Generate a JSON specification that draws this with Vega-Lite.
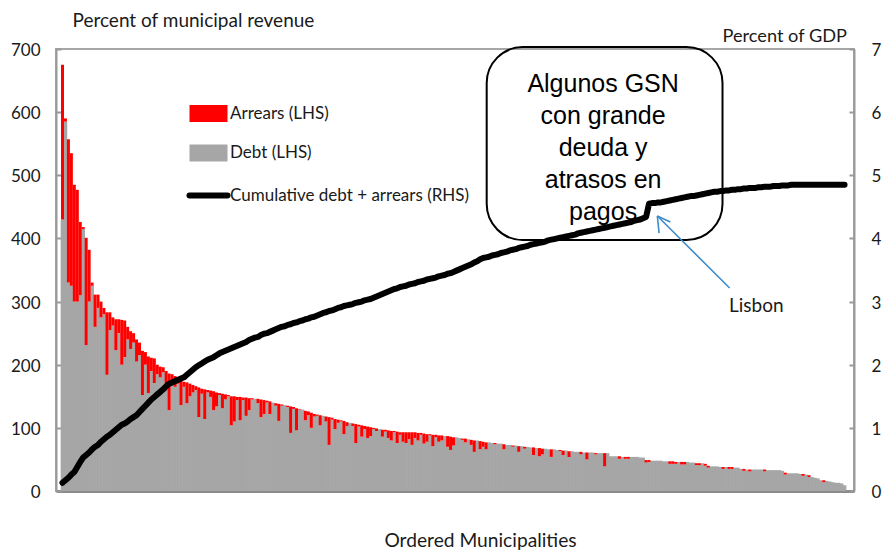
{
"$schema": "https://vega.github.io/schema/vega-lite/v6.json",
"width": 798, "height": 442,
"autosize": "none",
"padding": {"left": 56, "top": 49, "right": 28, "bottom": 59},
"background": "white",
"datasets": {
"bars": [
{"i":1,"t":675,"d":430,"c":0.13},{"i":2,"t":590,"d":585,"c":0.17},{"i":3,"t":557,"d":330,"c":0.21},{"i":4,"t":535,"d":325,"c":0.26},{"i":5,"t":485,"d":300,"c":0.30},
{"i":6,"t":477,"d":300,"c":0.38},{"i":7,"t":426,"d":310,"c":0.46},{"i":8,"t":418,"d":415,"c":0.53},{"i":9,"t":401,"d":231,"c":0.57},{"i":10,"t":382,"d":300,"c":0.61},
{"i":11,"t":330,"d":325,"c":0.66},{"i":12,"t":311,"d":260,"c":0.70},{"i":13,"t":311,"d":290,"c":0.73},{"i":14,"t":300,"d":275,"c":0.78},{"i":15,"t":290,"d":280,"c":0.82},
{"i":16,"t":283,"d":184,"c":0.86},{"i":17,"t":283,"d":255,"c":0.89},{"i":18,"t":275,"d":262,"c":0.93},{"i":19,"t":272,"d":223,"c":0.97},{"i":20,"t":272,"d":250,"c":1.01},
{"i":21,"t":271,"d":200,"c":1.05},{"i":22,"t":270,"d":212,"c":1.07},{"i":23,"t":260,"d":240,"c":1.10},{"i":24,"t":253,"d":225,"c":1.14},{"i":25,"t":250,"d":235,"c":1.17},
{"i":26,"t":240,"d":205,"c":1.20},{"i":27,"t":235,"d":215,"c":1.25},{"i":28,"t":222,"d":152,"c":1.30},{"i":29,"t":220,"d":200,"c":1.35},{"i":30,"t":213,"d":155,"c":1.40},
{"i":31,"t":211,"d":190,"c":1.45},{"i":32,"t":210,"d":171,"c":1.49},{"i":33,"t":200,"d":185,"c":1.53},{"i":34,"t":197,"d":180,"c":1.57},{"i":35,"t":196,"d":188,"c":1.61},
{"i":36,"t":190,"d":170,"c":1.66},{"i":37,"t":186,"d":128,"c":1.70},{"i":38,"t":185,"d":172,"c":1.72},{"i":39,"t":182,"d":165,"c":1.74},{"i":40,"t":176,"d":170,"c":1.76},
{"i":41,"t":175,"d":136,"c":1.78},{"i":42,"t":173,"d":165,"c":1.80},{"i":43,"t":172,"d":139,"c":1.84},{"i":44,"t":170,"d":150,"c":1.88},{"i":45,"t":168,"d":156,"c":1.92},
{"i":46,"t":166,"d":160,"c":1.96},{"i":47,"t":164,"d":117,"c":1.99},{"i":48,"t":162,"d":154,"c":2.02},{"i":49,"t":161,"d":114,"c":2.05},{"i":50,"t":160,"d":156,"c":2.08},
{"i":51,"t":159,"d":149,"c":2.10},{"i":52,"t":158,"d":128,"c":2.12},{"i":53,"t":156,"d":134,"c":2.15},{"i":54,"t":155,"d":152,"c":2.18},{"i":55,"t":154,"d":131,"c":2.20},
{"i":56,"t":153,"d":145,"c":2.22},{"i":57,"t":152,"d":150,"c":2.24},{"i":58,"t":150,"d":104,"c":2.26},{"i":59,"t":150,"d":110,"c":2.28},{"i":60,"t":149,"d":144,"c":2.30},
{"i":61,"t":149,"d":112,"c":2.32},{"i":62,"t":148,"d":144,"c":2.34},{"i":63,"t":148,"d":119,"c":2.36},{"i":64,"t":147,"d":128,"c":2.39},{"i":65,"t":147,"d":145,"c":2.41},
{"i":66,"t":146,"d":146,"c":2.43},{"i":67,"t":146,"d":139,"c":2.44},{"i":68,"t":145,"d":117,"c":2.47},{"i":69,"t":144,"d":122,"c":2.49},{"i":70,"t":143,"d":140,"c":2.50},
{"i":71,"t":142,"d":122,"c":2.52},{"i":72,"t":140,"d":140,"c":2.54},{"i":73,"t":139,"d":135,"c":2.56},{"i":74,"t":138,"d":111,"c":2.58},{"i":75,"t":137,"d":135,"c":2.60},
{"i":76,"t":136,"d":136,"c":2.61},{"i":77,"t":135,"d":133,"c":2.63},{"i":78,"t":134,"d":92,"c":2.64},{"i":79,"t":133,"d":130,"c":2.66},{"i":80,"t":131,"d":96,"c":2.67},
{"i":81,"t":130,"d":129,"c":2.69},{"i":82,"t":129,"d":129,"c":2.70},{"i":83,"t":127,"d":112,"c":2.72},{"i":84,"t":126,"d":120,"c":2.73},{"i":85,"t":124,"d":100,"c":2.75},
{"i":86,"t":122,"d":118,"c":2.76},{"i":87,"t":121,"d":119,"c":2.78},{"i":88,"t":120,"d":104,"c":2.80},{"i":89,"t":119,"d":119,"c":2.82},{"i":90,"t":118,"d":110,"c":2.83},
{"i":91,"t":117,"d":73,"c":2.85},{"i":92,"t":116,"d":113,"c":2.86},{"i":93,"t":114,"d":98,"c":2.88},{"i":94,"t":113,"d":108,"c":2.90},{"i":95,"t":112,"d":110,"c":2.91},
{"i":96,"t":111,"d":90,"c":2.93},{"i":97,"t":109,"d":103,"c":2.94},{"i":98,"t":108,"d":108,"c":2.95},{"i":99,"t":107,"d":103,"c":2.96},{"i":100,"t":106,"d":76,"c":2.98},
{"i":101,"t":105,"d":102,"c":2.99},{"i":102,"t":104,"d":86,"c":3.00},{"i":103,"t":103,"d":98,"c":3.02},{"i":104,"t":102,"d":84,"c":3.03},{"i":105,"t":101,"d":87,"c":3.04},
{"i":106,"t":100,"d":98,"c":3.06},{"i":107,"t":99,"d":95,"c":3.08},{"i":108,"t":98,"d":98,"c":3.10},{"i":109,"t":97,"d":86,"c":3.12},{"i":110,"t":97,"d":94,"c":3.14},
{"i":111,"t":96,"d":84,"c":3.16},{"i":112,"t":95,"d":80,"c":3.18},{"i":113,"t":95,"d":93,"c":3.20},{"i":114,"t":94,"d":76,"c":3.21},{"i":115,"t":93,"d":89,"c":3.23},
{"i":116,"t":93,"d":78,"c":3.24},{"i":117,"t":93,"d":76,"c":3.25},{"i":118,"t":93,"d":82,"c":3.27},{"i":119,"t":93,"d":73,"c":3.28},{"i":120,"t":93,"d":84,"c":3.29},
{"i":121,"t":92,"d":80,"c":3.31},{"i":122,"t":92,"d":89,"c":3.32},{"i":123,"t":91,"d":75,"c":3.33},{"i":124,"t":90,"d":78,"c":3.35},{"i":125,"t":90,"d":88,"c":3.36},
{"i":126,"t":89,"d":71,"c":3.37},{"i":127,"t":89,"d":85,"c":3.38},{"i":128,"t":88,"d":78,"c":3.40},{"i":129,"t":88,"d":80,"c":3.41},{"i":130,"t":87,"d":87,"c":3.42},
{"i":131,"t":87,"d":70,"c":3.44},{"i":132,"t":86,"d":65,"c":3.45},{"i":133,"t":85,"d":72,"c":3.47},{"i":134,"t":85,"d":85,"c":3.49},{"i":135,"t":84,"d":84,"c":3.51},
{"i":136,"t":83,"d":81,"c":3.53},{"i":137,"t":83,"d":77,"c":3.55},{"i":138,"t":82,"d":82,"c":3.57},{"i":139,"t":81,"d":73,"c":3.59},{"i":140,"t":80,"d":62,"c":3.62},
{"i":141,"t":80,"d":80,"c":3.64},{"i":142,"t":79,"d":66,"c":3.67},{"i":143,"t":78,"d":70,"c":3.69},{"i":144,"t":77,"d":66,"c":3.70},{"i":145,"t":77,"d":77,"c":3.71},
{"i":146,"t":76,"d":76,"c":3.73},{"i":147,"t":76,"d":74,"c":3.74},{"i":148,"t":75,"d":75,"c":3.75},{"i":149,"t":75,"d":75,"c":3.77},{"i":150,"t":74,"d":66,"c":3.78},
{"i":151,"t":73,"d":73,"c":3.79},{"i":152,"t":73,"d":73,"c":3.81},{"i":153,"t":72,"d":70,"c":3.82},{"i":154,"t":72,"d":72,"c":3.83},{"i":155,"t":71,"d":62,"c":3.85},
{"i":156,"t":71,"d":71,"c":3.86},{"i":157,"t":70,"d":67,"c":3.87},{"i":158,"t":70,"d":70,"c":3.88},{"i":159,"t":69,"d":69,"c":3.90},{"i":160,"t":69,"d":57,"c":3.91},
{"i":161,"t":68,"d":68,"c":3.92},{"i":162,"t":68,"d":55,"c":3.93},{"i":163,"t":67,"d":58,"c":3.94},{"i":164,"t":67,"d":67,"c":3.95},{"i":165,"t":66,"d":66,"c":3.97},
{"i":166,"t":66,"d":54,"c":3.98},{"i":167,"t":66,"d":66,"c":3.99},{"i":168,"t":65,"d":65,"c":4.00},{"i":169,"t":65,"d":63,"c":4.01},{"i":170,"t":64,"d":57,"c":4.02},
{"i":171,"t":64,"d":64,"c":4.03},{"i":172,"t":63,"d":54,"c":4.04},{"i":173,"t":63,"d":63,"c":4.05},{"i":174,"t":62,"d":62,"c":4.06},{"i":175,"t":62,"d":62,"c":4.08},
{"i":176,"t":62,"d":58,"c":4.09},{"i":177,"t":61,"d":61,"c":4.10},{"i":178,"t":61,"d":50,"c":4.11},{"i":179,"t":61,"d":61,"c":4.12},{"i":180,"t":61,"d":61,"c":4.13},
{"i":181,"t":60,"d":58,"c":4.14},{"i":182,"t":60,"d":60,"c":4.15},{"i":183,"t":60,"d":60,"c":4.16},{"i":184,"t":60,"d":39,"c":4.17},{"i":185,"t":60,"d":60,"c":4.18},
{"i":186,"t":55,"d":55,"c":4.19},{"i":187,"t":55,"d":55,"c":4.20},{"i":188,"t":55,"d":55,"c":4.21},{"i":189,"t":55,"d":51,"c":4.22},{"i":190,"t":54,"d":54,"c":4.23},
{"i":191,"t":54,"d":51,"c":4.24},{"i":192,"t":54,"d":51,"c":4.25},{"i":193,"t":54,"d":54,"c":4.26},{"i":194,"t":54,"d":54,"c":4.28},{"i":195,"t":54,"d":54,"c":4.29},
{"i":196,"t":53,"d":53,"c":4.30},{"i":197,"t":53,"d":53,"c":4.32},{"i":198,"t":49,"d":45,"c":4.34},{"i":199,"t":49,"d":46,"c":4.55},{"i":200,"t":48,"d":48,"c":4.56},
{"i":201,"t":48,"d":48,"c":4.56},{"i":202,"t":48,"d":48,"c":4.57},{"i":203,"t":48,"d":48,"c":4.57},{"i":204,"t":47,"d":47,"c":4.58},{"i":205,"t":47,"d":47,"c":4.59},
{"i":206,"t":47,"d":43,"c":4.60},{"i":207,"t":47,"d":43,"c":4.61},{"i":208,"t":46,"d":43,"c":4.62},{"i":209,"t":46,"d":46,"c":4.63},{"i":210,"t":46,"d":42,"c":4.64},
{"i":211,"t":46,"d":42,"c":4.65},{"i":212,"t":46,"d":46,"c":4.66},{"i":213,"t":45,"d":45,"c":4.67},{"i":214,"t":45,"d":45,"c":4.67},{"i":215,"t":44,"d":41,"c":4.68},
{"i":216,"t":44,"d":41,"c":4.69},{"i":217,"t":44,"d":44,"c":4.70},{"i":218,"t":43,"d":40,"c":4.71},{"i":219,"t":40,"d":37,"c":4.72},{"i":220,"t":39,"d":39,"c":4.73},
{"i":221,"t":39,"d":39,"c":4.74},{"i":222,"t":39,"d":39,"c":4.74},{"i":223,"t":38,"d":38,"c":4.75},{"i":224,"t":38,"d":35,"c":4.75},{"i":225,"t":38,"d":38,"c":4.76},
{"i":226,"t":38,"d":35,"c":4.76},{"i":227,"t":38,"d":35,"c":4.77},{"i":228,"t":37,"d":37,"c":4.77},{"i":229,"t":37,"d":37,"c":4.78},{"i":230,"t":35,"d":35,"c":4.78},
{"i":231,"t":35,"d":32,"c":4.79},{"i":232,"t":34,"d":34,"c":4.79},{"i":233,"t":34,"d":31,"c":4.80},{"i":234,"t":34,"d":34,"c":4.80},{"i":235,"t":34,"d":34,"c":4.80},
{"i":236,"t":34,"d":34,"c":4.81},{"i":237,"t":34,"d":34,"c":4.81},{"i":238,"t":34,"d":31,"c":4.82},{"i":239,"t":33,"d":33,"c":4.82},{"i":240,"t":33,"d":33,"c":4.82},
{"i":241,"t":33,"d":33,"c":4.83},{"i":242,"t":33,"d":33,"c":4.83},{"i":243,"t":33,"d":33,"c":4.83},{"i":244,"t":32,"d":32,"c":4.84},{"i":245,"t":29,"d":26,"c":4.84},
{"i":246,"t":28,"d":28,"c":4.84},{"i":247,"t":28,"d":28,"c":4.85},{"i":248,"t":28,"d":28,"c":4.85},{"i":249,"t":28,"d":28,"c":4.85},{"i":250,"t":27,"d":27,"c":4.85},
{"i":251,"t":27,"d":24,"c":4.85},{"i":252,"t":26,"d":26,"c":4.85},{"i":253,"t":25,"d":22,"c":4.85},{"i":254,"t":22,"d":22,"c":4.85},{"i":255,"t":21,"d":21,"c":4.85},
{"i":256,"t":20,"d":20,"c":4.85},{"i":257,"t":17,"d":17,"c":4.85},{"i":258,"t":17,"d":14,"c":4.85},{"i":259,"t":16,"d":16,"c":4.85},{"i":260,"t":15,"d":15,"c":4.85},
{"i":261,"t":14,"d":14,"c":4.85},{"i":262,"t":13,"d":13,"c":4.85},{"i":263,"t":13,"d":13,"c":4.85},{"i":264,"t":12,"d":12,"c":4.85},{"i":265,"t":9,"d":9,"c":4.85}
],
"box": [{"x1": 144.2, "x2": 223.8, "y1": 703, "y2": 397.5}],
"boxtext": [{"x": 183.5, "v": 663, "label": "Algunos GSN|con  grande|deuda y|atrasos en|pagos"}],
"arrow": [
{"x": 226.2, "y": 321.5, "x2": 201.8, "y2": 435.5},
{"x": 201.8, "y": 435.5, "x2": 202.4, "y2": 408.5},
{"x": 201.8, "y": 435.5, "x2": 206.2, "y2": 426}
],
"lisbon": [{"x": 235.2, "v": 283.5, "label": "Lisbon"}]
},
"layer": [
{
"layer": [
{
"data": {"name": "bars"},
"mark": {"type": "bar", "width": 3.6, "orient": "vertical"},
"encoding": {
"x": {"field": "i", "type": "quantitative", "title": "Ordered Municipalities", "scale": {"domain": [0.5, 266.5], "nice": false, "zero": false}},
"y": {"field": "d", "type": "quantitative", "title": "Percent of municipal revenue", "scale": {"domain": [0, 700], "nice": false},
"axis": {"orient": "left", "values": [0,100,200,300,400,500,600,700], "tickSize": -5, "labelPadding": 21, "labelOffset": 1.5, "titleAngle": 0, "titleAlign": "left", "titleBaseline": "alphabetic", "titleX": 16, "titleY": -23, "titleFontSize": 19}},
"color": {"datum": "Debt (LHS)", "type": "nominal",
"scale": {"domain": ["Arrears (LHS)", "Debt (LHS)", "Cumulative debt + arrears (RHS)"], "range": ["#ff0000", "#a6a6a6", "#000000"]},
"legend": {"orient": "none", "legendX": 144, "legendY": 56, "title": null, "symbolType": "M-1,-0.45H1V0.45H-1Z", "symbolSize": 1444, "symbolStrokeWidth": 0, "labelFontSize": 17, "labelColor": "#1a1a1a", "labelOffset": 13, "rowPadding": 20.5, "labelLimit": 400,
"encode": {"symbols": {"update": {
"shape": {"signal": "datum.value === 'Cumulative debt + arrears (RHS)' ? 'M-1,0H1' : 'M-1,-0.45H1V0.45H-1Z'"},
"fill": {"signal": "datum.value === 'Arrears (LHS)' ? '#ff0000' : datum.value === 'Debt (LHS)' ? '#a6a6a6' : 'transparent'"},
"stroke": {"signal": "datum.value === 'Cumulative debt + arrears (RHS)' ? '#000000' : 'transparent'"},
"strokeWidth": {"signal": "datum.value === 'Cumulative debt + arrears (RHS)' ? 6 : 0"},
"strokeCap": {"value": "round"},
"opacity": {"value": 1},
"fillOpacity": {"value": 1}
}}}}}
}
},
{
"data": {"name": "bars"},
"mark": {"type": "bar", "width": 3, "orient": "vertical"},
"encoding": {
"x": {"field": "i", "type": "quantitative", "title": "Ordered Municipalities"},
"y": {"field": "t", "type": "quantitative", "title": "Percent of municipal revenue"},
"y2": {"field": "d"},
"color": {"datum": "Arrears (LHS)", "type": "nominal"}
}
},
{
"data": {"name": "box"},
"mark": {"type": "rect", "cornerRadius": 36, "fill": "transparent", "stroke": "#000000", "strokeWidth": 2},
"encoding": {
"x": {"field": "x1", "type": "quantitative", "title": "Ordered Municipalities"},
"x2": {"field": "x2"},
"y": {"field": "y1", "type": "quantitative", "title": "Percent of municipal revenue"},
"y2": {"field": "y2"}
}
},
{
"data": {"name": "boxtext"},
"mark": {"type": "text", "font": "Liberation Sans, Arial, sans-serif", "fontSize": 25, "lineBreak": "|", "lineHeight": 32, "align": "center", "baseline": "top", "color": "#000000"},
"encoding": {
"x": {"field": "x", "type": "quantitative", "title": "Ordered Municipalities"},
"y": {"field": "v", "type": "quantitative", "title": "Percent of municipal revenue"},
"text": {"field": "label"}
}
},
{
"data": {"name": "arrow"},
"mark": {"type": "rule", "color": "#3f8ccc", "strokeWidth": 1.6},
"encoding": {
"x": {"field": "x", "type": "quantitative", "title": "Ordered Municipalities"},
"y": {"field": "y", "type": "quantitative", "title": "Percent of municipal revenue"},
"x2": {"field": "x2"},
"y2": {"field": "y2"}
}
},
{
"data": {"name": "lisbon"},
"mark": {"type": "text", "fontSize": 19, "align": "center", "baseline": "alphabetic", "color": "#1a1a1a"},
"encoding": {
"x": {"field": "x", "type": "quantitative", "title": "Ordered Municipalities"},
"y": {"field": "v", "type": "quantitative", "title": "Percent of municipal revenue"},
"text": {"field": "label"}
}
}
]
},
{
"data": {"name": "bars"},
"mark": {"type": "line", "strokeWidth": 6, "strokeJoin": "round", "strokeCap": "round"},
"encoding": {
"x": {"field": "i", "type": "quantitative", "title": "Ordered Municipalities"},
"y": {"field": "c", "type": "quantitative", "title": "Percent of GDP", "scale": {"domain": [0, 7], "nice": false},
"axis": {"orient": "right", "values": [0,1,2,3,4,5,6,7], "tickSize": -5, "labelPadding": 22, "labelOffset": 1.5, "titleAngle": 0, "titleAlign": "left", "titleBaseline": "alphabetic", "titleX": -132, "titleY": -8, "titleFontSize": 18.2}},
"color": {"datum": "Cumulative debt + arrears (RHS)", "type": "nominal"}
}
}
],
"resolve": {"scale": {"y": "independent"}},
"config": {
"font": "Lato, Liberation Sans, sans-serif",
"view": {"stroke": "#a6a6a6", "strokeWidth": 2},
"axis": {"grid": false, "domainColor": "#999999", "domainWidth": 2, "tickColor": "#999999", "tickWidth": 2, "labelColor": "#1a1a1a", "titleColor": "#1a1a1a", "labelFontSize": 17, "titleFontWeight": "normal", "labelFont": "Lato, Liberation Sans, sans-serif", "titleFont": "Lato, Liberation Sans, sans-serif"},
"axisX": {"ticks": false, "labels": false, "domainWidth": 3, "domainColor": "#8c8c8c", "titleFontSize": 19.2, "titleAlign": "center", "titleBaseline": "alphabetic", "titleX": 424, "titleY": 55},
"legend": {"labelFont": "Lato, Liberation Sans, sans-serif"},
"text": {"font": "Lato, Liberation Sans, sans-serif"}
}
}
